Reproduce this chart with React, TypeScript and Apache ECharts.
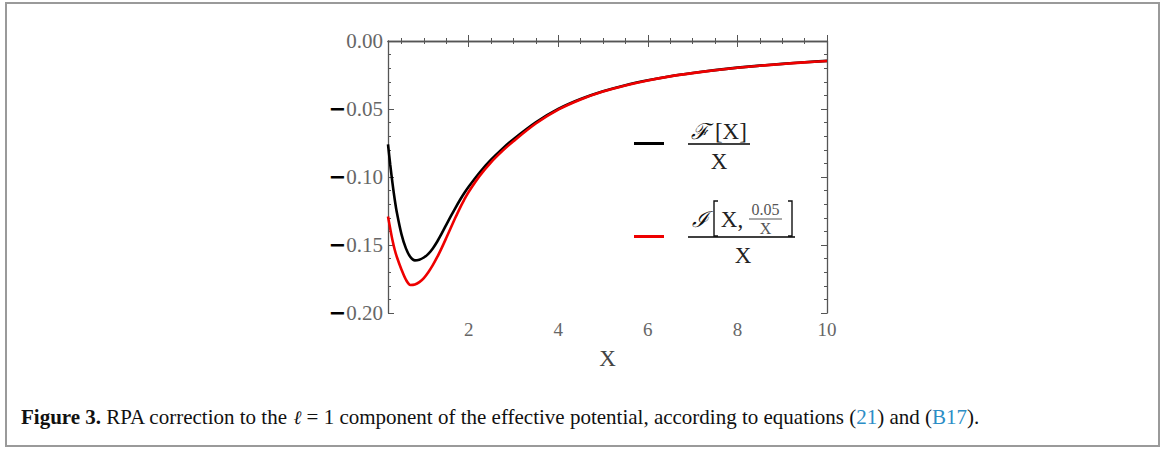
import React, { useEffect, useRef } from "react";
import * as echarts from "echarts";

// F[X]/X (black)
const xF = [0.2, 0.25, 0.3, 0.35, 0.4, 0.5, 0.6, 0.7, 0.8, 0.9, 1.0, 1.1, 1.2, 1.3, 1.4, 1.5, 1.6, 1.7, 1.8, 1.9, 2.0, 2.25, 2.5, 2.75, 3.0, 3.5, 4.0, 4.5, 5.0, 5.5, 6.0, 6.5, 7.0, 7.5, 8.0, 8.5, 9.0, 9.5, 10];
const yF = [-0.076, -0.091, -0.1045, -0.1165, -0.1265, -0.142, -0.1525, -0.1588, -0.1613, -0.1608, -0.1592, -0.1565, -0.1525, -0.1474, -0.1415, -0.1352, -0.129, -0.123, -0.1173, -0.112, -0.1072, -0.0965, -0.0873, -0.0793, -0.0722, -0.0598, -0.05, -0.0427, -0.037, -0.0325, -0.0289, -0.0259, -0.0235, -0.0214, -0.0196, -0.0181, -0.0168, -0.0156, -0.0146];
// I[X, 0.05/X]/X (red)
const xI = [0.2, 0.25, 0.3, 0.35, 0.4, 0.5, 0.6, 0.7, 0.8, 0.9, 1.0, 1.1, 1.2, 1.3, 1.4, 1.5, 1.6, 1.7, 1.8, 1.9, 2.0, 2.25, 2.5, 2.75, 3.0, 3.5, 4.0, 4.5, 5.0, 5.5, 6.0, 6.5, 7.0, 7.5, 8.0, 8.5, 9.0, 9.5, 10];
const yI = [-0.129, -0.138, -0.1465, -0.1535, -0.159, -0.168, -0.1755, -0.1794, -0.179, -0.1773, -0.1743, -0.17, -0.1648, -0.1588, -0.1521, -0.1449, -0.1375, -0.1302, -0.1232, -0.1168, -0.111, -0.099, -0.0892, -0.081, -0.0737, -0.0607, -0.0505, -0.043, -0.0372, -0.0327, -0.029, -0.026, -0.0236, -0.0215, -0.0197, -0.0182, -0.0169, -0.0157, -0.0147];

const xMajorTicks = [2, 4, 6, 8, 10];
const xMinorTicks = [0.5, 1, 1.5, 2.5, 3, 3.5, 4.5, 5, 5.5, 6.5, 7, 7.5, 8.5, 9, 9.5];

const seriesNames = ["F[X]/X", "I[X,0.05/X]/X"];

export default function App() {
  const ref = useRef<HTMLDivElement>(null);
  useEffect(() => {
    if (!ref.current) return;
    const chart = echarts.init(ref.current, null, { renderer: "svg" });
    const axisCol = "#555";
    const labelFont = "Liberation Serif";
    const tickLen = 6;
    const minorLen = 3;
    const baseX = {
      type: "value",
      min: 0.2,
      max: 10,
      gridIndex: 0,
      splitLine: { show: false },
    };
    const yFmt = (v: number) => {
      if (Math.abs(v) < 1e-9) return "{n|0.00}";
      return "{m|\u2212}{n|" + Math.abs(v).toFixed(2) + "}";
    };
    chart.setOption({
      animation: false,
      backgroundColor: "#fff",
      grid: { left: 388, top: 41, width: 439, height: 272, containLabel: false },
      xAxis: [
        {
          ...baseX,
          position: "bottom",
          name: "X",
          nameLocation: "middle",
          nameGap: 34,
          nameTextStyle: { fontFamily: labelFont, fontSize: 23, color: "#444" },
          axisLine: { show: true, lineStyle: { color: axisCol, width: 1.3 } },
          axisTick: { show: true, inside: true, length: tickLen, customValues: xMajorTicks, lineStyle: { color: axisCol } },
          axisLabel: { show: true, customValues: xMajorTicks, margin: 7, fontFamily: labelFont, fontSize: 19, color: "#666" },
        },
        {
          ...baseX,
          position: "bottom",
          axisLine: { show: false },
          axisTick: { show: true, inside: true, length: minorLen, customValues: xMinorTicks, lineStyle: { color: axisCol } },
          axisLabel: { show: false },
        },
        {
          ...baseX,
          position: "top",
          axisLine: { show: true, lineStyle: { color: axisCol, width: 1.3 } },
          axisTick: { show: true, inside: true, length: tickLen, customValues: xMajorTicks, lineStyle: { color: axisCol } },
          axisLabel: { show: false },
        },
        {
          ...baseX,
          position: "top",
          axisLine: { show: false },
          axisTick: { show: true, inside: true, length: minorLen, customValues: xMinorTicks, lineStyle: { color: axisCol } },
          axisLabel: { show: false },
        },
      ],
      yAxis: [
        {
          type: "value",
          min: -0.2,
          max: 0,
          interval: 0.05,
          position: "left",
          splitLine: { show: false },
          axisLine: { show: true, lineStyle: { color: axisCol, width: 1.3 } },
          axisTick: { show: true, inside: true, length: tickLen, lineStyle: { color: axisCol } },
          minorTick: { show: true, splitNumber: 5, length: minorLen, lineStyle: { color: axisCol } },
          axisLabel: {
            show: true,
            margin: 5,
            formatter: yFmt,
            rich: {
              m: { fontFamily: "DejaVu Sans", fontWeight: "bold", fontSize: 21, color: "#000" },
              n: { fontFamily: labelFont, fontSize: 21, color: "#666" },
            },
          },
        },
        {
          type: "value",
          min: -0.2,
          max: 0,
          interval: 0.05,
          position: "right",
          splitLine: { show: false },
          axisLine: { show: true, lineStyle: { color: axisCol, width: 1.3 } },
          axisTick: { show: true, inside: true, length: tickLen, lineStyle: { color: axisCol } },
          minorTick: { show: true, splitNumber: 5, length: minorLen, lineStyle: { color: axisCol } },
          axisLabel: { show: false },
        },
      ],
      series: [
        {
          name: seriesNames[0],
          type: "line",
          xAxisIndex: 0,
          yAxisIndex: 0,
          data: xF.map((x, i) => [x, yF[i]]),
          showSymbol: false,
          smooth: 0.3,
          lineStyle: { color: "#000", width: 2.6 },
          z: 2,
        },
        {
          name: seriesNames[1],
          type: "line",
          xAxisIndex: 0,
          yAxisIndex: 0,
          data: xI.map((x, i) => [x, yI[i]]),
          showSymbol: false,
          smooth: 0.3,
          lineStyle: { color: "#ee0000", width: 2.6 },
          z: 3,
        },
      ],
      graphic: [
        // outer frame
        { type: "rect", shape: { x: 6, y: 3, width: 1153, height: 443 }, style: { fill: "none", stroke: "#9a9a9a", lineWidth: 2 }, silent: true },
        // legend entry 1
        { type: "line", shape: { x1: 634, y1: 143.5, x2: 664, y2: 143.5 }, style: { stroke: "#000", lineWidth: 3 } },
        {
          type: "text", x: 719, y: 131,
          style: {
            text: "{s|\u2131} [X]",
            font: "23px 'Liberation Serif', serif",
            fill: "#222", align: "center", verticalAlign: "middle",
            rich: { s: { fontFamily: "DejaVu Serif", fontStyle: "italic", fontSize: 22, fill: "#111" } },
          },
        },
        { type: "line", shape: { x1: 688, y1: 144, x2: 750, y2: 144 }, style: { stroke: "#000", lineWidth: 1.6 } },
        { type: "text", x: 719, y: 161, style: { text: "X", font: "23px 'Liberation Serif', serif", fill: "#222", align: "center", verticalAlign: "middle" } },
        // legend entry 2
        { type: "line", shape: { x1: 634, y1: 236.5, x2: 664, y2: 236.5 }, style: { stroke: "#ee0000", lineWidth: 3 } },
        { type: "text", x: 700, y: 219, style: { text: "\u2110", font: "italic 22px 'DejaVu Serif', serif", fill: "#111", align: "center", verticalAlign: "middle" } },
        { type: "polyline", shape: { points: [[718, 201], [714, 201], [714, 236], [718, 236]] }, style: { stroke: "#111", lineWidth: 1.4, fill: "none" } },
        { type: "text", x: 732, y: 219, style: { text: "X,", font: "23px 'Liberation Serif', serif", fill: "#222", align: "center", verticalAlign: "middle" } },
        { type: "text", x: 765.5, y: 209, style: { text: "0.05", font: "16px 'Liberation Serif', serif", fill: "#555", align: "center", verticalAlign: "middle" } },
        { type: "line", shape: { x1: 749, y1: 219, x2: 782, y2: 219 }, style: { stroke: "#555", lineWidth: 1 } },
        { type: "text", x: 765.5, y: 228.5, style: { text: "X", font: "16px 'Liberation Serif', serif", fill: "#555", align: "center", verticalAlign: "middle" } },
        { type: "polyline", shape: { points: [[788, 201], [792, 201], [792, 236], [788, 236]] }, style: { stroke: "#111", lineWidth: 1.4, fill: "none" } },
        { type: "line", shape: { x1: 688, y1: 237, x2: 795, y2: 237 }, style: { stroke: "#000", lineWidth: 1.6 } },
        { type: "text", x: 743, y: 255, style: { text: "X", font: "23px 'Liberation Serif', serif", fill: "#222", align: "center", verticalAlign: "middle" } },
        // caption
        {
          type: "text",
          x: 21,
          y: 417,
          style: {
            text: "{b|Figure 3.} RPA correction to the {i|\u2113} = 1 component of the effective potential, according to equations ({c|21}) and ({c|B17}).",
            font: "21px 'Liberation Serif', serif",
            fill: "#111",
            verticalAlign: "middle",
            rich: {
              b: { fontWeight: "bold", fontFamily: "Liberation Serif", fontSize: 21, fill: "#111" },
              i: { fontStyle: "italic", fontFamily: "DejaVu Serif", fontSize: 19, fill: "#111" },
              c: { fontFamily: "Liberation Serif", fontSize: 21, fill: "#2b8dc6" },
            },
          },
        },
      ],
    });
    return () => chart.dispose();
  }, []);
  return (
    <div
      ref={ref}
      style={{ position: "absolute", left: 0, top: 0, width: 1165, height: 450 }}
    />
  );
}
